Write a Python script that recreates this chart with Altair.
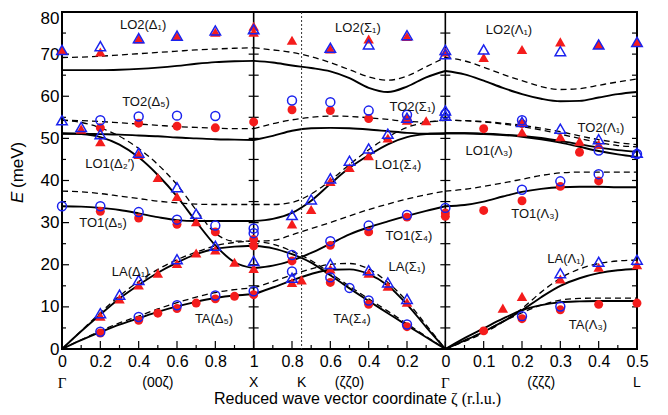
import altair as alt
import pandas as pd

# ---------------- zeta grids of the three panels ----------------
Z_GX = [0.0, 0.1, 0.2, 0.3, 0.4, 0.5, 0.6, 0.7, 0.8, 0.9, 1.0]          # Gamma -> X   (00z)
Z_XG = [1.0, 0.9, 0.8, 0.7, 0.6, 0.5, 0.4, 0.3, 0.2, 0.1, 0.0]          # X -> K -> Gamma (zz0)
Z_GL = [0.0, 0.05, 0.1, 0.15, 0.2, 0.25, 0.3, 0.35, 0.4, 0.45, 0.5]     # Gamma -> L   (zzz)

# ---------------- calculated branches (solid / dashed) ----------------
GX_LO2_S = [66.2, 66.2, 66.2, 66.3, 66.5, 66.8, 67.2, 67.7, 68.1, 68.3, 68.4]
GX_LO2_D = [69.2, 69.3, 69.5, 69.8, 70.1, 70.4, 70.7, 71.0, 71.2, 71.4, 71.5]
GX_TO2_S = [51.1, 51.1, 51.0, 50.9, 50.7, 50.5, 50.2, 50.0, 49.8, 49.7, 49.6]
GX_TO2_D = [54.3, 54.2, 54.0, 53.7, 53.4, 53.1, 52.8, 52.6, 52.4, 52.3, 52.3]
GX_LO1_S = [51.2, 51.0, 50.3, 48.5, 45.5, 41.3, 36.2, 30.2, 24.6, 20.6, 19.2]
GX_LO1_D = [54.3, 53.8, 52.5, 50.5, 47.6, 43.8, 39.0, 33.0, 27.5, 25.6, 25.6]
GX_TO1_S = [33.9, 33.8, 33.5, 33.0, 32.2, 31.3, 30.6, 30.4, 30.4, 30.4, 30.4]
GX_TO1_D = [37.5, 37.3, 36.9, 36.3, 35.7, 35.1, 34.7, 34.4, 34.3, 34.3, 34.3]
GX_LA_S = [0.0, 4.2, 8.2, 12.0, 15.2, 18.1, 20.5, 22.5, 23.8, 24.3, 24.5]
GX_LA_D = [0.0, 4.3, 8.6, 12.6, 16.0, 18.9, 21.2, 23.0, 24.5, 25.3, 25.6]
GX_TA_S = [0.0, 2.1, 4.0, 5.8, 7.3, 8.8, 10.1, 11.2, 12.1, 12.7, 13.0]
GX_TA_D = [0.0, 2.2, 4.3, 6.2, 7.8, 9.5, 11.0, 12.3, 13.4, 14.1, 14.5]

XG_LO2_S = [68.4, 68.0, 67.3, 66.7, 65.9, 64.3, 62.0, 61.0, 62.3, 64.5, 66.0]
XG_LO2_D = [71.5, 71.0, 70.4, 69.4, 68.0, 66.3, 64.6, 63.8, 64.8, 67.0, 69.2]
XG_TO2_S = [49.6, 50.6, 51.8, 52.4, 52.5, 52.4, 52.1, 51.7, 51.3, 51.1, 51.1]
XG_TO2_D = [52.3, 53.5, 54.4, 55.0, 55.3, 55.2, 54.9, 54.5, 54.0, 53.9, 54.3]
XG_LO1_S = [30.4, 30.9, 32.3, 35.2, 39.2, 43.0, 46.0, 48.6, 50.3, 51.0, 51.2]
XG_LO1_D = [34.3, 34.3, 34.8, 36.8, 40.0, 43.8, 47.3, 50.3, 52.6, 53.8, 54.3]
XG_TO1_S = [19.2, 19.8, 21.0, 22.8, 25.0, 27.2, 28.9, 30.3, 31.6, 32.8, 33.9]
XG_TO1_D = [25.6, 25.8, 27.1, 28.6, 30.0, 31.6, 33.1, 34.4, 35.6, 36.6, 37.5]
XG_TA_S = [24.5, 23.9, 22.5, 20.5, 17.5, 14.4, 11.4, 8.5, 5.6, 2.8, 0.0]
XG_TA_D = [25.6, 24.9, 23.2, 21.0, 18.0, 14.9, 11.9, 9.0, 6.0, 3.0, 0.0]
XG_LA_S = [13.0, 14.6, 16.3, 17.8, 18.8, 18.9, 17.8, 15.1, 10.6, 5.2, 0.0]
XG_LA_D = [14.5, 16.0, 17.6, 19.0, 20.1, 20.3, 19.0, 15.8, 11.3, 5.7, 0.0]

GL_LO2_S = [66.0, 65.2, 63.7, 62.0, 60.5, 59.4, 58.8, 58.9, 59.7, 60.5, 61.0]
GL_LO2_D = [69.2, 68.4, 66.9, 65.2, 63.7, 62.3, 61.6, 61.8, 62.6, 63.4, 64.1]
GL_TO2_D = [54.3, 54.2, 54.0, 53.6, 53.1, 52.4, 51.6, 50.6, 49.7, 49.0, 48.5]
GL_LO1_D = [54.3, 54.2, 53.9, 53.4, 52.8, 52.0, 51.0, 50.0, 49.0, 48.3, 48.0]
GL_TO2_S = [51.2, 51.2, 51.1, 50.9, 50.6, 50.1, 49.4, 48.6, 47.8, 47.2, 46.8]
GL_LO1_S = [51.2, 51.2, 51.0, 50.8, 50.4, 49.8, 49.0, 48.0, 47.0, 46.2, 45.6]
GL_TO1_S = [33.9, 34.2, 35.0, 36.2, 37.3, 38.0, 38.4, 38.5, 38.5, 38.4, 38.4]
GL_TO1_D = [37.5, 37.9, 38.6, 39.4, 40.3, 41.2, 41.8, 42.0, 42.0, 42.0, 42.0]
GL_LA_S = [0.0, 2.0, 4.1, 6.5, 9.2, 12.3, 15.0, 16.8, 18.0, 18.7, 19.0]
GL_LA_D = [0.0, 1.8, 3.8, 6.4, 9.6, 13.5, 16.8, 19.0, 20.3, 20.9, 21.1]
GL_TA_S = [0.0, 2.6, 4.9, 7.2, 9.2, 10.4, 11.1, 11.3, 11.4, 11.4, 11.4]
GL_TA_D = [0.0, 2.0, 4.2, 6.5, 8.6, 10.4, 11.6, 12.0, 12.1, 12.1, 12.1]

CURVES = [
    (1, "solid", GX_LO2_S), (1, "dashed", GX_LO2_D), (1, "solid", GX_TO2_S), (1, "dashed", GX_TO2_D),
    (1, "solid", GX_LO1_S), (1, "dashed", GX_LO1_D), (1, "solid", GX_TO1_S), (1, "dashed", GX_TO1_D),
    (1, "solid", GX_LA_S), (1, "dashed", GX_LA_D), (1, "solid", GX_TA_S), (1, "dashed", GX_TA_D),
    (2, "solid", XG_LO2_S), (2, "dashed", XG_LO2_D), (2, "solid", XG_TO2_S), (2, "dashed", XG_TO2_D),
    (2, "solid", XG_LO1_S), (2, "dashed", XG_LO1_D), (2, "solid", XG_TO1_S), (2, "dashed", XG_TO1_D),
    (2, "solid", XG_TA_S), (2, "dashed", XG_TA_D), (2, "solid", XG_LA_S), (2, "dashed", XG_LA_D),
    (3, "solid", GL_LO2_S), (3, "dashed", GL_LO2_D), (3, "dashed", GL_TO2_D), (3, "dashed", GL_LO1_D),
    (3, "solid", GL_TO2_S), (3, "solid", GL_LO1_S), (3, "solid", GL_TO1_S), (3, "dashed", GL_TO1_D),
    (3, "solid", GL_LA_S), (3, "dashed", GL_LA_D), (3, "solid", GL_TA_S), (3, "dashed", GL_TA_D),
]
GRIDS = {1: Z_GX, 2: Z_XG, 3: Z_GL}

# ---------------- measured points (zeta, E) per panel ----------------
RED_CIRCLES = {
    1: [(0.2, 52.5), (0.4, 53.6), (0.6, 52.9), (0.8, 52.5), (1.0, 53.9),
        (0.2, 32.7), (0.4, 31.1), (0.6, 29.6), (0.8, 27.8), (1.0, 26.0), (1.0, 24.5),
        (0.2, 3.8), (0.4, 6.8), (0.5, 8.5), (0.6, 9.6), (0.7, 10.9), (0.8, 11.9), (0.9, 12.5), (1.0, 12.9)],
    2: [(0.8, 56.8), (0.6, 56.6), (0.4, 54.7), (0.2, 54.5),
        (0.8, 20.9), (0.6, 24.6), (0.4, 27.8), (0.2, 31.3), (0.0, 32.3), (0.0, 31.5),
        (0.6, 15.8), (0.4, 10.6), (0.2, 5.3)],
    3: [(0.1, 52.3), (0.2, 53.5), (0.35, 46.7),
        (0.1, 32.9), (0.2, 35.2), (0.3, 38.6), (0.4, 39.9),
        (0.1, 4.3), (0.2, 7.2), (0.3, 9.3), (0.4, 10.6), (0.5, 10.9)],
}
BLUE_CIRCLES = {
    1: [(0.2, 54.3), (0.4, 55.2), (0.6, 55.4), (0.8, 55.3),
        (0.0, 33.9), (0.2, 33.9), (0.4, 32.5), (0.6, 30.7), (0.8, 29.3), (1.0, 28.6), (1.0, 27.5),
        (0.2, 4.1), (0.4, 7.6), (0.6, 10.4), (0.8, 12.7), (1.0, 13.7)],
    2: [(0.8, 59.0), (0.6, 58.6), (0.4, 56.6), (0.2, 55.6), (0.0, 55.8),
        (0.8, 22.3), (0.6, 25.6), (0.4, 29.3), (0.2, 31.8), (0.0, 33.5),
        (0.8, 18.4), (0.6, 17.0), (0.5, 14.5), (0.4, 11.5), (0.2, 5.8)],
    3: [(0.2, 54.3), (0.4, 47.1), (0.5, 46.3),
        (0.2, 37.8), (0.3, 39.8), (0.4, 41.5),
        (0.2, 7.8), (0.3, 10.1)],
}
RED_TRIANGLES = {
    1: [(0.0, 70.9), (0.2, 70.5), (0.4, 73.6), (0.6, 74.2), (0.8, 75.2), (1.0, 76.6), (1.0, 75.2),
        (0.1, 52.2), (0.2, 49.2), (0.4, 46.2), (0.5, 40.7), (0.6, 36.2), (0.7, 30.2), (0.8, 23.5),
        (0.9, 20.6), (1.0, 19.1),
        (0.2, 7.8), (0.3, 11.9), (0.4, 15.2), (0.5, 18.0), (0.6, 20.3), (0.7, 22.8)],
    2: [(0.8, 73.3), (0.6, 71.2), (0.4, 73.6), (0.2, 74.2), (0.0, 70.5),
        (0.2, 54.3), (0.1, 54.2), (0.3, 50.1), (0.4, 45.9), (0.5, 43.1), (0.6, 39.8), (0.7, 33.1), (0.8, 29.7),
        (0.8, 15.8), (0.75, 16.4), (0.6, 19.0), (0.4, 18.0), (0.3, 14.9), (0.2, 11.1)],
    3: [(0.1, 69.2), (0.2, 71.1), (0.3, 72.9), (0.4, 72.3), (0.5, 72.9),
        (0.2, 51.5), (0.3, 50.4), (0.35, 49.3), (0.4, 48.6),
        (0.15, 9.7), (0.2, 12.5), (0.3, 16.6), (0.4, 19.4), (0.5, 20.0)],
}
BLUE_TRIANGLES = {
    1: [(0.0, 71.0), (0.2, 71.9), (0.4, 73.8), (0.6, 74.4), (0.8, 75.6), (1.0, 75.9),
        (0.0, 54.3), (0.1, 52.7), (0.2, 51.0), (0.4, 46.6), (0.6, 38.4), (0.7, 32.1), (0.8, 24.5), (1.0, 20.9),
        (0.2, 8.5), (0.3, 12.9), (0.4, 16.4), (0.6, 21.3)],
    2: [(0.6, 71.5), (0.4, 72.3), (0.2, 74.5), (0.0, 71.0), (0.0, 70.0),
        (0.2, 54.9), (0.3, 51.1), (0.4, 47.6), (0.5, 44.7), (0.6, 40.5), (0.7, 35.5), (0.8, 31.8),
        (0.0, 56.6), (0.0, 55.4),
        (0.8, 16.9), (0.6, 20.2), (0.4, 18.7), (0.3, 15.8), (0.2, 11.9)],
    3: [(0.1, 71.1), (0.3, 70.7), (0.4, 72.3), (0.5, 72.9),
        (0.2, 53.9), (0.3, 52.3), (0.4, 49.8), (0.5, 46.6),
        (0.3, 18.0), (0.4, 20.7), (0.5, 21.2)],
}

# ---------------- text ----------------
BRANCH_TEXT = ["LO2(Δ₁)", "TO2(Δ₅)", "LO1(Δ₂′)", "TO1(Δ₅)", "LA(Δ₁)", "TA(Δ₅)",
               "LO2(Σ₁)", "TO2(Σ₁)", "LO1(Σ₄)", "TO1(Σ₄)", "LA(Σ₁)", "TA(Σ₄)",
               "LO2(Λ₁)", "TO2(Λ₁)", "LO1(Λ₃)", "TO1(Λ₃)", "LA(Λ₁)", "TA(Λ₃)"]
BRANCH_U = [0.423, 0.438, 0.25, 0.214, 0.358, 0.793,
            1.544, 1.829, 1.753, 1.81, 1.80, 1.513,
            2.332, 2.812, 2.228, 2.468, 2.63, 2.744]
BRANCH_E = [76.9, 58.7, 43.8, 29.9, 18.2, 7.2,
            76.2, 57.4, 43.7, 26.8, 19.4, 7.2,
            75.8, 52.5, 47.0, 32.1, 21.3, 5.6]

X_TICK_POS = [0.0, 0.2, 0.4, 0.6, 0.8, 1.0, 1.2, 1.4, 1.6, 1.8, 2.0, 2.2, 2.4, 2.6, 2.8, 3.0]
X_TICK_LABELS = ["0", "0.2", "0.4", "0.6", "0.8", "1", "0.8", "0.6", "0.4", "0.2",
                 "0", "0.1", "0.2", "0.3", "0.4", "0.5"]
Y_TICK_POS = [0, 10, 20, 30, 40, 50, 60, 70, 80]
POINT_TEXT = ["(00ζ)", "X", "K", "(ζζ0)", "(ζζζ)", "L"]
POINT_U = [0.5, 1.0, 1.25, 1.5, 2.5, 3.0]
GAMMA_U = [0.0, 2.0]

W, H = 575, 337
FONT = "Liberation Sans"
SERIF = "Liberation Serif"
RED = "#f41c1c"
BLUE = "#1a22ee"


def to_u(panel, z):
    if panel == 1:
        return z
    if panel == 2:
        return 2.0 - z
    return 2.0 + 2.0 * z


rows = []
for cid, (panel, style, vals) in enumerate(CURVES):
    for z, e in zip(GRIDS[panel], vals):
        rows.append({"u": to_u(panel, z), "E": e, "cid": cid, "style": style})
curves = pd.DataFrame(rows)


def pts(d):
    return pd.DataFrame([{"u": to_u(p, z), "E": e} for p, lst in d.items() for z, e in lst])


xs = alt.Scale(domain=[0, 3], nice=False, zero=False)
ys = alt.Scale(domain=[0, 80], nice=False, zero=False)
label_expr = "[" + ",".join("'%s'" % t for t in X_TICK_LABELS) + "][round(datum.value*5)]"
AX = alt.Axis(values=X_TICK_POS, labelExpr=label_expr, title=None, labelFontSize=16, labelPadding=4,
              labelFont=FONT, labelColor="black", ticks=False, domain=False, grid=False,
              labelFlush=False, labelOverlap=False)
AY = alt.Axis(values=Y_TICK_POS, title=None, labelFontSize=17, labelPadding=3, labelFont=FONT,
              labelColor="black", ticks=False, domain=False, grid=False, labelFlush=False,
              labelOverlap=False,
              labelOffset={"condition": {"test": "datum.value == 80", "value": 6}, "value": 0})
X = alt.X("u:Q", scale=xs, axis=AX)
Y = alt.Y("E:Q", scale=ys, axis=AY)

solid = alt.Chart(curves).transform_filter(alt.datum.style == "solid").mark_line(
    color="black", strokeWidth=1.9, interpolate="monotone"
).encode(x=X, y=Y, detail="cid:N")

dashed = alt.Chart(curves).transform_filter(alt.datum.style == "dashed").mark_line(
    color="black", strokeWidth=1.3, strokeDash=[6, 4], interpolate="monotone"
).encode(x=X, y=Y, detail="cid:N")

# frame internals: vertical lines at X and Gamma, dotted at K
vlines = alt.Chart(pd.DataFrame({"u": [1.0, 2.0]})).mark_rule(color="black", strokeWidth=1.6).encode(x=X)
kline = alt.Chart(pd.DataFrame({"u": [1.25]})).mark_rule(color="#333", strokeWidth=1, strokeDash=[2, 2]).encode(x=X)

# ticks
xt = pd.DataFrame({"u": [i / 10 for i in range(31)]})
xt["major"] = [i % 2 == 0 for i in range(31)]
xt_major = alt.Chart(xt).transform_filter(alt.datum.major).mark_rule(color="black", strokeWidth=1.2).encode(
    x=X, y=alt.value(H), y2=alt.value(H - 8))
xt_minor = alt.Chart(xt).transform_filter(~alt.datum.major).mark_rule(color="black", strokeWidth=1.2).encode(
    x=X, y=alt.value(H), y2=alt.value(H - 4))

yt = pd.DataFrame({"E": list(range(0, 81, 5))})
yt["major"] = [v % 10 == 0 for v in yt["E"]]
yt_left_M = alt.Chart(yt).transform_filter(alt.datum.major).mark_rule(color="black", strokeWidth=1.2).encode(
    y=Y, x=alt.value(0), x2=alt.value(7))
yt_left_m = alt.Chart(yt).transform_filter(~alt.datum.major).mark_rule(color="black", strokeWidth=1.2).encode(
    y=Y, x=alt.value(0), x2=alt.value(4))
yt_right = alt.Chart(yt).mark_rule(color="black", strokeWidth=1.2).encode(
    y=Y, x=alt.value(W), x2=alt.value(W - 5))
yt_mid = alt.Chart(pd.DataFrame([{"E": e, "u": u} for e in range(0, 81, 5) for u in (1.0, 2.0)])).mark_rule(
    color="black", strokeWidth=1.2, xOffset=-5, x2Offset=5).encode(y=Y, x=X, x2="u:Q")

# points
red_c = alt.Chart(pts(RED_CIRCLES)).mark_point(shape="circle", filled=True, color=RED, size=80, opacity=1).encode(x=X, y=Y)
red_t = alt.Chart(pts(RED_TRIANGLES)).mark_point(shape="triangle-up", filled=True, color=RED, size=110, opacity=1).encode(x=X, y=Y)
blue_c = alt.Chart(pts(BLUE_CIRCLES)).mark_point(shape="circle", filled=False, color=BLUE, size=80, strokeWidth=1.5, opacity=1).encode(x=X, y=Y)
blue_t = alt.Chart(pts(BLUE_TRIANGLES)).mark_point(shape="triangle-up", filled=False, color=BLUE, size=110, strokeWidth=1.5, opacity=1).encode(x=X, y=Y)

# branch labels
blab = alt.Chart(pd.DataFrame({"u": BRANCH_U, "E": BRANCH_E, "t": BRANCH_TEXT})).mark_text(
    font=FONT, fontSize=13, color="#111", align="center", baseline="middle").encode(x=X, y=Y, text="t:N")

# high-symmetry point names under the axis
plab = alt.Chart(pd.DataFrame({"u": POINT_U, "t": POINT_TEXT})).mark_text(
    font=FONT, fontSize=14, color="black", align="center", baseline="middle").encode(
    x=X, y=alt.value(H + 34), text="t:N")
glab = alt.Chart(pd.DataFrame({"u": GAMMA_U, "t": ["Γ", "Γ"]})).mark_text(
    font=SERIF, fontSize=15, color="black", align="center", baseline="middle").encode(
    x=X, y=alt.value(H + 34), text="t:N")

# axis titles
xt1 = alt.Chart(pd.DataFrame({"t": ["Reduced wave vector coordinate"]})).mark_text(
    font=FONT, fontSize=16, color="black", align="right", baseline="alphabetic").encode(
    x=alt.value(385), y=alt.value(H + 55), text="t:N")
xt2 = alt.Chart(pd.DataFrame({"t": ["ζ (r.l.u.)"]})).mark_text(
    font=SERIF, fontSize=16, color="black", align="left", baseline="alphabetic").encode(
    x=alt.value(389), y=alt.value(H + 55), text="t:N")
yt1 = alt.Chart(pd.DataFrame({"t": ["E"]})).mark_text(
    font=FONT, fontSize=17, fontStyle="italic", color="black", align="left", baseline="middle", angle=270).encode(
    x=alt.value(-44), y=alt.value(191), text="t:N")
yt2 = alt.Chart(pd.DataFrame({"t": ["(meV)"]})).mark_text(
    font=FONT, fontSize=17, color="black", align="left", baseline="middle", angle=270).encode(
    x=alt.value(-44), y=alt.value(176), text="t:N")

chart = alt.layer(
    solid, dashed, vlines, kline, xt_major, xt_minor, yt_left_M, yt_left_m, yt_right, yt_mid,
    red_c, red_t, blue_c, blue_t, blab, plab, glab, xt1, xt2, yt1, yt2,
).properties(
    width=W, height=H,
    autosize=alt.AutoSizeParams(type="none"),
    padding={"left": 54, "top": 4, "right": 23, "bottom": 58},
).configure_view(stroke="black", strokeWidth=2)

chart.save("out.html", embed_options={"renderer": "svg", "actions": False})
